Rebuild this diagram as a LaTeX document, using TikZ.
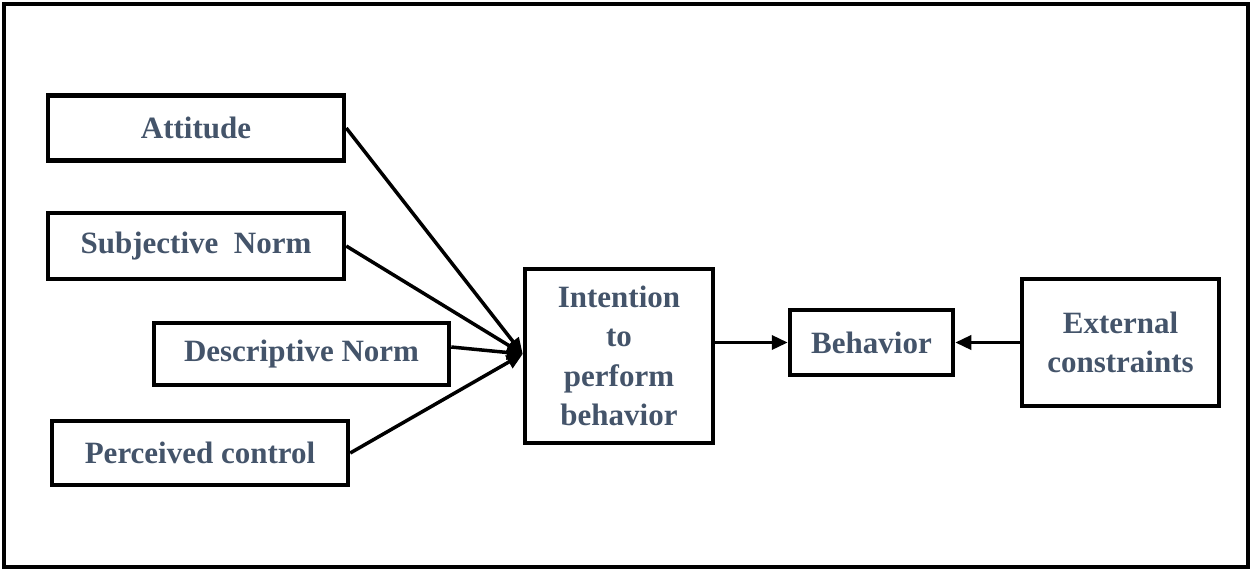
\documentclass[tikz,border=0pt]{standalone}
\usepackage{fontspec}
\setmainfont{Liberation Serif}
\usetikzlibrary{arrows.meta}
\definecolor{txt}{HTML}{44546A}
\begin{document}
\begin{tikzpicture}[x=1pt,y=-1pt,
  box/.style={draw=black,line width=4.5pt,inner sep=0pt,align=center,text=txt,
    font=\fontsize{31}{39.5}\selectfont\bfseries},
  conn/.style={line width=3.5pt,-{Triangle[length=16pt,width=14pt]}}]
\useasboundingbox (0,0) rectangle (1252,571);
\draw[line width=3.5pt] (4,4) rectangle (1248,567);
\node[box,minimum width=296pt,minimum height=65pt] (att) at (196,128) {Attitude};
\node[box,minimum width=296pt,minimum height=66pt] (sub) at (196,246) {Subjective\ \ Norm};
\node[box,minimum width=295pt,minimum height=62pt] (des) at (301.5,354) {Descriptive Norm};
\node[box,minimum width=296pt,minimum height=64pt] (per) at (200,453) {Perceived control};
\node[box,minimum width=188pt,minimum height=174pt] (int) at (619,356) {Intention\\to\\perform\\behavior};
\node[box,minimum width=163pt,minimum height=65pt] (beh) at (871.5,342.5) {Behavior};
\node[box,minimum width=197pt,minimum height=127pt] (ext) at (1120.5,342.5) {External\\constraints};
\coordinate (tip) at ([yshift=2pt]int.west);
\draw[conn] (att.east) -- (tip);
\draw[conn] (sub.east) -- (tip);
\draw[conn] ([yshift=7pt]des.east) -- (tip);
\draw[conn] (per.east) -- (tip);
\draw[conn] (int.east |- beh.west) -- (beh.west);
\draw[conn] (ext.west) -- (beh.east);
\end{tikzpicture}
\end{document}
